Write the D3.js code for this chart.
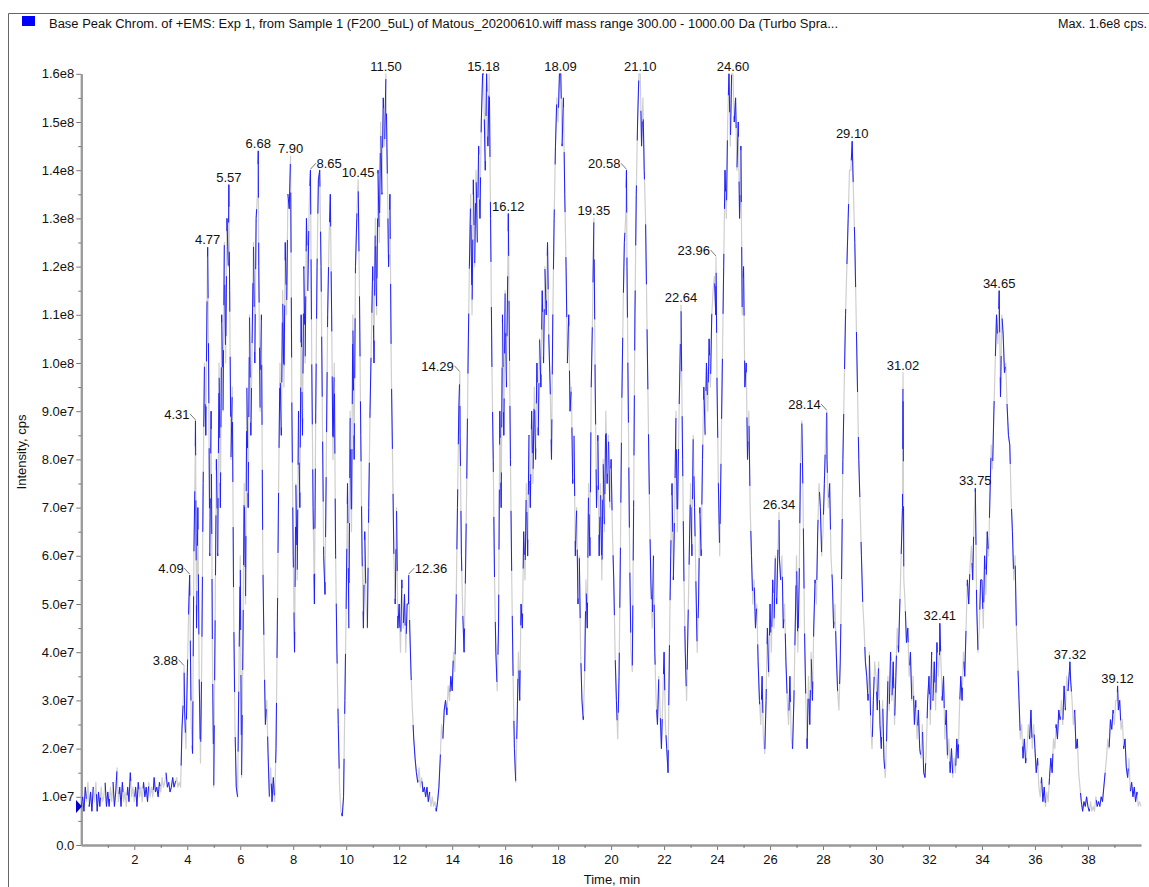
<!DOCTYPE html>
<html>
<head>
<meta charset="utf-8">
<script src="https://cdn.jsdelivr.net/npm/d3@7"></script>
<style>
  body { margin: 0; background: #fff; }
  svg { display: block; }
  text { font-family: "Liberation Sans", Arial, sans-serif; fill: #111; }
</style>
</head>
<body>
<svg id="chart" width="1149" height="887"></svg>
<script>
// Base peak chromatogram, sampled every 0.05 min; intensities in millions of cps
const scanStart = 0;
const scanStep = 0.05;
const intensityM = [
  8,10,7,12,9,13,8,11,7,12,9,13,7,11,8,12,9,10,13,8,
  11,8,12,9,13,8,11,16,9,12,8,13,9,11,8,12,9,15,10,12,
  9,12,8,13,10,12,9,13,10,12,9,13,10,12,10,14,11,12,10,13,
  11,14,12,13,15,12,13,11,12,14,12,13,14,12,13,12,24,30,28,20,
  35,48,50,25,19,60,80,45,70,35,17,40,75,100,85,115,105,60,90,40,
  12,45,80,60,100,70,110,90,125,100,130,120,115,80,95,50,25,12,10,35,
  60,14,40,75,50,95,70,110,85,105,125,100,130,135,120,90,110,60,40,25,
  30,19,10,16,9,14,9,20,45,75,100,85,115,95,125,110,135,132,120,90,
  60,40,75,55,90,70,110,85,120,100,130,115,132,125,100,70,50,90,120,138,
  140,120,90,60,52,80,110,125,135,110,80,100,60,40,25,12,7,6,10,30,
  50,75,45,90,65,110,80,120,130,130,115,85,60,45,65,50,45,70,90,105,
  120,100,130,110,140,125,150,135,155,145,160,140,120,135,100,80,60,50,70,45,
  50,40,55,45,52,40,50,50,45,35,28,22,18,15,13,16,12,14,11,12,
  10,12,9,11,8,10,8,9,7,9,12,18,25,22,28,30,27,33,30,35,
  32,40,36,50,70,90,85,60,48,40,55,75,100,120,135,110,138,120,140,125,
  145,130,150,160,155,140,160,145,160,130,100,80,55,40,32,45,90,70,110,85,
  115,95,120,110,80,55,35,20,13,25,40,30,50,45,65,55,75,60,85,70,
  90,75,95,80,100,85,105,95,115,100,120,110,125,105,95,80,110,130,145,155,
  150,160,160,145,155,135,120,100,110,90,95,75,85,60,70,50,60,40,30,26,
  35,55,45,75,60,95,110,120,95,70,85,60,75,55,80,65,90,75,85,70,
  80,65,55,40,30,22,35,60,90,110,125,130,120,90,60,40,36,70,110,135,
  150,160,160,145,155,140,130,110,90,70,55,45,60,40,30,25,35,28,20,30,
  40,25,20,15,40,60,75,55,70,90,65,85,100,105,80,55,40,30,45,60,
  75,60,85,70,55,40,50,70,60,80,95,85,100,90,105,95,110,115,118,110,
  95,75,60,80,100,120,140,130,150,160,145,160,160,150,155,140,150,130,145,110,
  120,95,100,80,90,70,60,50,55,45,50,38,30,25,35,22,19,30,45,35,
  50,40,55,45,60,50,62,60,55,60,45,50,38,30,25,35,22,20,30,45,
  60,40,55,80,88,70,45,30,20,35,25,40,30,45,55,50,65,75,70,60,
  65,75,85,80,70,75,60,55,45,50,40,32,28,38,55,80,95,110,120,130,
  140,140,146,135,125,110,95,80,70,60,50,45,38,35,30,40,25,20,30,38,
  35,28,38,25,20,30,18,14,22,35,28,40,30,38,25,35,45,40,50,60,
  70,55,50,42,45,35,40,30,35,25,30,22,28,20,18,25,15,14,20,30,
  35,25,40,30,38,28,42,35,40,38,30,35,22,28,18,22,15,20,14,18,
  15,22,18,28,35,30,40,35,45,55,50,58,62,55,68,70,50,40,45,55,
  55,45,60,52,65,60,72,83,78,90,100,110,104,115,93,110,106,98,100,91,
  85,83,72,65,55,60,45,38,30,22,25,18,22,17,20,25,22,28,20,25,
  20,15,18,12,10,14,9,12,8,11,9,14,18,15,22,20,25,22,28,26,
  30,25,33,28,35,32,36,34,30,25,28,20,22,15,12,9,7,9,8,10,
  8,7,9,7,8,7,10,8,9,8,10,9,12,15,18,22,20,26,24,28,
  25,30,30,28,30,24,26,20,22,16,14,18,11,13,10,12,9,11,8,9,
  8
];

// Labelled peak apexes: retention time (min) and height (millions of cps)
const peakTimes = [3.88, 4.09, 4.31, 4.77, 5.57, 6.68, 7.90, 8.65, 10.45, 11.50,
  12.36, 14.29, 15.18, 16.12, 18.09, 19.35, 20.58, 21.10, 22.64, 23.96,
  24.60, 26.34, 28.14, 29.10, 31.02, 32.41, 33.75, 34.65, 37.32, 39.12];
const peakHeightsM = [37, 56, 88, 124, 137, 144, 143, 140, 138, 160,
  56, 98, 160, 131, 160, 130, 140, 160, 112, 122,
  160, 69, 90, 146, 98, 46, 74, 115, 38, 33];
// Label placement: 0 above the apex, -1 left with leader, +1 right with leader
const labelSide = [-1, -1, -1, 0, 0, 0, 0, 1, 0, 0,
  1, -1, 0, 0, 0, 0, -1, 0, 0, -1,
  0, 0, -1, 0, 0, 0, 0, 0, 0, 0];

const timeMajorTicks = d3.range(2, 39, 2);
const timeMinorTicks = d3.range(1, 40, 2);
const intensityMajorTicks = d3.range(0, 1.6e8 + 1, 1e7);
const intensityMinorTicks = d3.range(5e6, 1.6e8, 1e7);

const titleText = "Base Peak Chrom. of +EMS: Exp 1, from Sample 1 (F200_5uL) of Matous_20200610.wiff mass range 300.00 - 1000.00 Da (Turbo Spra...";
const maxText = "Max. 1.6e8 cps.";

// ---- build the trace ----
const apexes = peakTimes.map((t, i) => ({ t, v: peakHeightsM[i] * 1e6 }));
const scans = intensityM
  .map((v, i) => ({ t: +(scanStart + i * scanStep).toFixed(2), v: v * 1e6 }))
  .filter(d => !apexes.some(a => Math.abs(a.t - d.t) < 1e-6));
const trace = scans.concat(apexes).sort((a, b) => a.t - b.t);

const svg = d3.select("#chart");
const x = d3.scaleLinear().domain([0, 40]).range([81.3, 1140.9]);
const y = d3.scaleLinear().domain([0, 1.6e8]).range([845, 73.8]);

// frame
svg.append("line").attr("x1", 8.5).attr("x2", 1149).attr("y1", 13.5).attr("y2", 13.5)
  .attr("stroke", "#666").attr("stroke-width", 1);
svg.append("line").attr("x1", 8.5).attr("x2", 8.5).attr("y1", 13.5).attr("y2", 887)
  .attr("stroke", "#666").attr("stroke-width", 1);

// header
svg.append("rect").attr("x", 22).attr("y", 16).attr("width", 13).attr("height", 10).attr("fill", "#0000ff");
svg.append("text").attr("x", 49).attr("y", 27.5).attr("font-size", 12.5)
  .attr("textLength", 789).attr("lengthAdjust", "spacingAndGlyphs").text(titleText);
svg.append("text").attr("x", 1147).attr("y", 27.5).attr("font-size", 12.5).attr("text-anchor", "end")
  .attr("textLength", 89).attr("lengthAdjust", "spacingAndGlyphs").text(maxText);

// axes
const fmtIntensity = v => v === 0 ? "0.0" : d3.format(".1e")(v).replace("+", "");
const axisColor = "#9a9a9a";

const yAxis = d3.axisLeft(y).tickValues(intensityMajorTicks).tickFormat(fmtIntensity)
  .tickSizeInner(5).tickSizeOuter(0).tickPadding(2);
const gy = svg.append("g").attr("transform", "translate(81.3,0)").call(yAxis);
const yMinor = d3.axisLeft(y).tickValues(intensityMinorTicks).tickFormat("").tickSizeInner(3).tickSizeOuter(0);
svg.append("g").attr("transform", "translate(81.3,0)").call(yMinor);

const xAxis = d3.axisBottom(x).tickValues(timeMajorTicks).tickFormat(d3.format("d"))
  .tickSizeInner(5).tickSizeOuter(0).tickPadding(5);
const gx = svg.append("g").attr("transform", "translate(0,845)").call(xAxis);
const xMinor = d3.axisBottom(x).tickValues(timeMinorTicks).tickFormat("").tickSizeInner(3).tickSizeOuter(0);
svg.append("g").attr("transform", "translate(0,845)").call(xMinor);

svg.selectAll(".domain").attr("stroke", axisColor).attr("stroke-width", 2);
svg.selectAll(".tick line").attr("stroke", "#777").attr("stroke-width", 1);
svg.selectAll(".tick text").attr("font-size", 13).attr("fill", "#111")
  .attr("font-family", "'Liberation Sans', Arial, sans-serif");

// axis titles
svg.append("text").attr("transform", "translate(26,452) rotate(-90)").attr("text-anchor", "middle")
  .attr("font-size", 13).text("Intensity, cps");
svg.append("text").attr("x", 612).attr("y", 884).attr("text-anchor", "middle")
  .attr("font-size", 13).text("Time, min");

// chromatogram trace: light base with blue dashed overlay
const line = d3.line().x(d => x(d.t)).y(d => y(d.v));
svg.append("path").datum(trace).attr("d", line).attr("fill", "none")
  .attr("stroke", "#cfcfcf").attr("stroke-width", 1.2).attr("stroke-linejoin", "round");
svg.append("path").datum(trace).attr("d", line).attr("fill", "none")
  .attr("stroke", "#1f1fff").attr("stroke-width", 1).attr("stroke-dasharray", "60 45");

// start marker
const y0 = y(trace[0].v);
svg.append("path").attr("d", `M76,${y0 - 6.5}L82,${y0}L76,${y0 + 6.5}Z`).attr("fill", "#0000cc");

// peak labels
const fmtTime = d3.format(".2f");
apexes.forEach((a, i) => {
  const ax = x(a.t), ay = y(a.v);
  const side = labelSide[i];
  const label = svg.append("text").attr("font-size", 13).text(fmtTime(a.t));
  if (side === 0) {
    label.attr("x", ax).attr("y", ay - 3).attr("text-anchor", "middle");
  } else {
    const tx = ax + side * 6;
    label.attr("x", tx).attr("y", ay - 2).attr("text-anchor", side < 0 ? "end" : "start");
    svg.append("line").attr("x1", tx + side * -0.5).attr("y1", ay - 7)
      .attr("x2", ax).attr("y2", ay - 1).attr("stroke", "#555").attr("stroke-width", 0.8);
  }
});
</script>
</body>
</html>
